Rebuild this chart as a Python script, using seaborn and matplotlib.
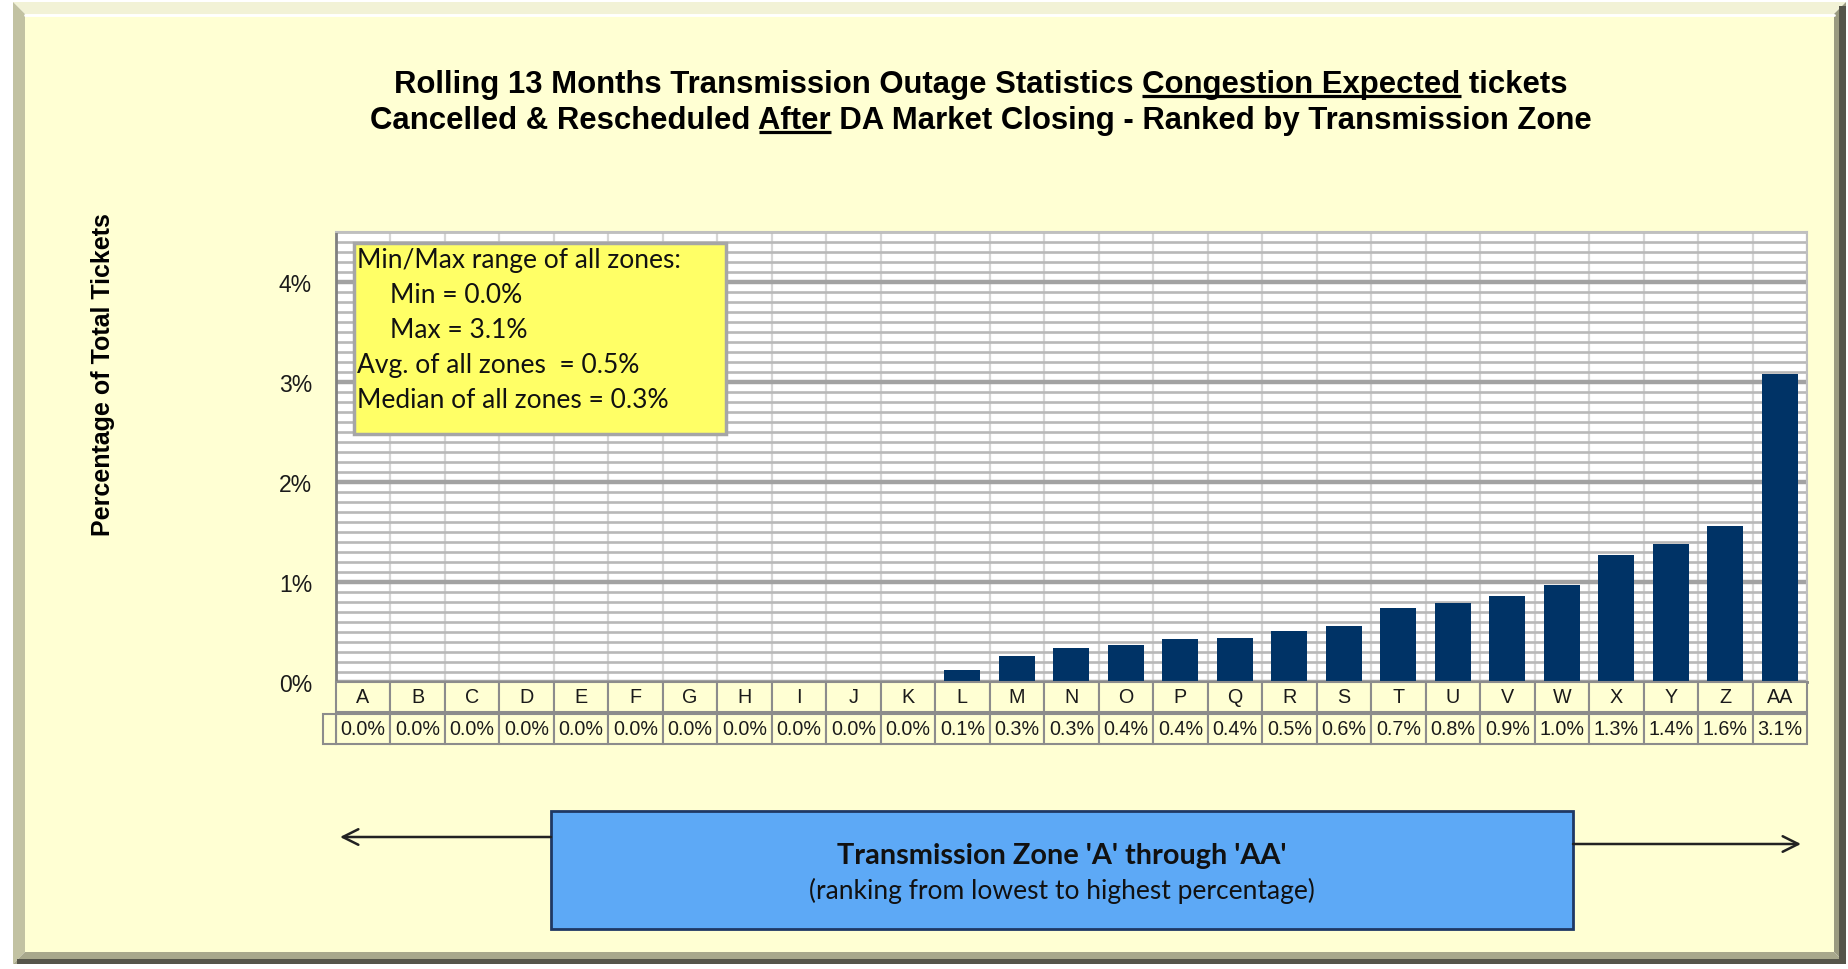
import numpy as np
import pandas as pd
import seaborn as sns
import matplotlib
matplotlib.use("Agg")
import matplotlib.pyplot as plt
from matplotlib.patches import Rectangle, Polygon
from matplotlib.ticker import MultipleLocator, FixedLocator, FuncFormatter
import matplotlib.transforms as mtransforms

# ---------------- data ----------------
zones = ["A", "B", "C", "D", "E", "F", "G", "H", "I", "J", "K", "L", "M", "N",
         "O", "P", "Q", "R", "S", "T", "U", "V", "W", "X", "Y", "Z", "AA"]
pct = [0.0, 0.0, 0.0, 0.0, 0.0, 0.0, 0.0, 0.0, 0.0, 0.0, 0.0, 0.12, 0.26, 0.34,
       0.37, 0.43, 0.44, 0.51, 0.56, 0.74, 0.79, 0.86, 0.97, 1.27, 1.38, 1.56, 3.08]
y_ticks = [0, 1, 2, 3, 4]
title_line1 = [("Rolling 13 Months Transmission Outage Statistics ", False),
               ("Congestion Expected", True), (" tickets", False)]
title_line2 = [("Cancelled & Rescheduled ", False), ("After", True),
               (" DA Market Closing - Ranked by Transmission Zone", False)]
y_label = "Percentage of Total Tickets"
box_title = "Transmission Zone 'A' through 'AA'"
box_sub = "(ranking from lowest to highest percentage)"

df = pd.DataFrame({"zone": zones, "pct": pct})

# ---------------- figure ----------------
W, H = 1849, 970
sns.set_theme(style="white")
plt.rcParams["font.family"] = ["Liberation Sans", "DejaVu Sans"]

fig = plt.figure(figsize=(W / 100, H / 100), dpi=100, facecolor="white")
bg = fig.add_axes([0, 0, 1, 1], zorder=0)
bg.set_xlim(0, W)
bg.set_ylim(H, 0)
bg.axis("off")

# panel with bevel
x0, y0, x1, y1, bv = 13, 3, 1846, 965, 12
face = "#FFFFD3"
bg.add_patch(Polygon([(x0, y0), (x1, y0), (x1 - bv, y0 + bv), (x0 + bv, y0 + bv)],
                     closed=True, fc="#F2F2D6", ec="none"))
bg.add_patch(Polygon([(x0, y0), (x0 + bv, y0 + bv), (x0 + bv, y1 - bv), (x0, y1)],
                     closed=True, fc="#C2C2A2", ec="none"))
bg.add_patch(Polygon([(x1, y0), (x1, y1), (x1 - bv, y1 - bv), (x1 - bv, y0 + bv)],
                     closed=True, fc="#9A9A80", ec="none"))
bg.add_patch(Polygon([(x0, y1), (x1, y1), (x1 - bv, y1 - bv), (x0 + bv, y1 - bv)],
                     closed=True, fc="#A8A88C", ec="none"))
bg.add_patch(Rectangle((x1 - 7, y0 + 4), 7, y1 - y0 - 4, fc="#55554A", ec="none"))
bg.add_patch(Rectangle((x0 + 4, y1 - 5), x1 - x0 - 4, 5, fc="#55554A", ec="none"))
bg.add_patch(Rectangle((x0 + bv, y0 + bv), x1 - x0 - 2 * bv, y1 - y0 - 2 * bv,
                       fc=face, ec="none"))
bg.plot([x0 + bv, x1 - bv], [y0 + bv + 1, y0 + bv + 1], color="white", lw=2)

# ---------------- title with underlines ----------------
renderer = fig.canvas.get_renderer()


def text_width(s, size, weight):
    t1 = bg.text(0, 0, "|" + s + "|", fontsize=size, fontweight=weight)
    t2 = bg.text(0, 0, "||", fontsize=size, fontweight=weight)
    w = t1.get_window_extent(renderer).width - t2.get_window_extent(renderer).width
    t1.remove()
    t2.remove()
    return w


def draw_line(segs, cx, base_y, size, ul_off, ul_lw):
    full = "".join(s for s, _ in segs)
    bg.text(cx, base_y, full, fontsize=size, fontweight="bold", ha="center",
            va="baseline", color="black")
    wfull = text_width(full, size, "bold")
    left = cx - wfull / 2
    prefix = ""
    for s, u in segs:
        if u:
            a = left + text_width(prefix, size, "bold") if prefix else left
            b = left + text_width(prefix + s, size, "bold")
            bg.plot([a, b], [base_y + ul_off, base_y + ul_off], color="black",
                    lw=ul_lw, solid_capstyle="butt")
        prefix += s


draw_line(title_line1, 981, 93.5, 22.4, 3.8, 2.3)
draw_line(title_line2, 981, 129.5, 22.4, 3.8, 2.3)

# y label
bg.text(103, 375, y_label, rotation=90, ha="center", va="center",
        fontsize=18, fontweight="bold", color="black")

# ---------------- main axes ----------------
ax_l, ax_r, ax_t, ax_b = 335.7, 1807.0, 232.7, 682.7
ax = fig.add_axes([ax_l / W, 1 - ax_b / H, (ax_r - ax_l) / W, (ax_b - ax_t) / H], zorder=2)
ax.set_facecolor("white")
sns.barplot(data=df, x="zone", y="pct", color="#003366", saturation=1,
            width=0.66, ax=ax, edgecolor="none", linewidth=0)
n = len(zones)
ax.set_xlim(-0.5, n - 0.5)
ax.set_ylim(0, 4.5)
ax.set_axisbelow(True)
ax.yaxis.set_major_locator(FixedLocator(y_ticks))
ax.yaxis.set_minor_locator(MultipleLocator(0.1))
ax.yaxis.set_major_formatter(FuncFormatter(lambda v, p: f"{v:.0f}%"))
ax.xaxis.set_minor_locator(FixedLocator(np.arange(-0.5, n, 1.0)))
ax.yaxis.grid(True, which="minor", color="#B8B8B8", lw=1.9)
ax.yaxis.grid(True, which="major", color="#A2A2A2", lw=3.2)
ax.xaxis.grid(True, which="minor", color="#D6D6D6", lw=1.6)
ax.xaxis.grid(False, which="major")
ax.set_xlabel("")
ax.set_ylabel("")
ax.tick_params(axis="x", which="both", length=0, labelbottom=False)
ax.tick_params(axis="y", which="major", direction="in", length=5, width=2,
               color="#808080", pad=17, labelsize=16.5, labelcolor="#1A1A1A")
ax.tick_params(axis="y", which="minor", direction="in", length=4, width=1.5,
               color="#808080")
for side in ["left", "bottom"]:
    ax.spines[side].set_color("#808080")
    ax.spines[side].set_linewidth(2)
for side in ["top", "right"]:
    ax.spines[side].set_color("#BFBFBF")
    ax.spines[side].set_linewidth(1.5)

# ---------------- data table ----------------
ph = ax_b - ax_t
cw = (ax_r - ax_l) / n
trans = mtransforms.blended_transform_factory(ax.transData, ax.transAxes)
r1_top, r1_bot = 0.0, -30.0 / ph
r2_top, r2_bot = -31.8 / ph, -62.3 / ph
for i, (z, v) in enumerate(zip(zones, pct)):
    ax.add_patch(Rectangle((i - 0.5, r1_bot), 1, r1_top - r1_bot, transform=trans,
                           fc=face, ec="#8C8C8C", lw=1.5, clip_on=False, zorder=3))
    ax.add_patch(Rectangle((i - 0.5, r2_bot), 1, r2_top - r2_bot, transform=trans,
                           fc=face, ec="#8C8C8C", lw=1.5, clip_on=False, zorder=3))
    ax.text(i, (r1_top + r1_bot) / 2, z, transform=trans, ha="center", va="center",
            fontsize=14.2, color="#1A1A1A", clip_on=False, zorder=4)
    ax.text(i, (r2_top + r2_bot) / 2, f"{v:.1f}%", transform=trans, ha="center",
            va="center", fontsize=14.2, color="#1A1A1A", clip_on=False, zorder=4)
ax.add_patch(Rectangle((-0.5 - 12.7 / cw, r2_bot), 12.7 / cw, r2_top - r2_bot,
                       transform=trans, fc=face, ec="#8C8C8C", lw=1.5,
                       clip_on=False, zorder=3))

# ---------------- statistics box ----------------
vals = np.array(pct)
stats_lines = [
    ("Min/Max range of all zones:", 357),
    (f"Min = {vals.min():.1f}%", 390),
    (f"Max = {vals.max():.1f}%", 390),
    (f"Avg. of all zones  = {vals.mean():.1f}%", 357),
    (f"Median of all zones = {np.median(vals):.1f}%", 357),
]
ov = fig.add_axes([0, 0, 1, 1], zorder=5)
ov.set_xlim(0, W)
ov.set_ylim(H, 0)
ov.axis("off")
ov.add_patch(Rectangle((354, 244), 372, 191, fc="#FFFF66", ec="#A6A6A6", lw=2.5))
for k, (s, xx) in enumerate(stats_lines):
    ov.text(xx, 261 + 35 * k, s, ha="left", va="center", fontsize=19,
            family=["Lato", "DejaVu Sans"], color="#111111")

# ---------------- bottom blue box and arrows ----------------
ov.add_patch(Rectangle((551, 812), 1022, 118, fc="#5DA9F6", ec="#1F3864", lw=2))
ov.text(1062, 856, box_title, ha="center", va="center", fontsize=20.8,
        fontweight="bold", family=["Lato", "DejaVu Sans"], color="#111111")
ov.text(1062, 891, box_sub, ha="center", va="center", fontsize=19,
        family=["Lato", "DejaVu Sans"], color="#111111")
ov.annotate("", xy=(340, 838), xytext=(551, 838),
            arrowprops=dict(arrowstyle="->", lw=1.8, color="#222222",
                            mutation_scale=28, shrinkA=0, shrinkB=0))
ov.annotate("", xy=(1801, 845), xytext=(1573, 845),
            arrowprops=dict(arrowstyle="->", lw=1.8, color="#222222",
                            mutation_scale=28, shrinkA=0, shrinkB=0))

fig.savefig("out.png", dpi=100, facecolor="white")
